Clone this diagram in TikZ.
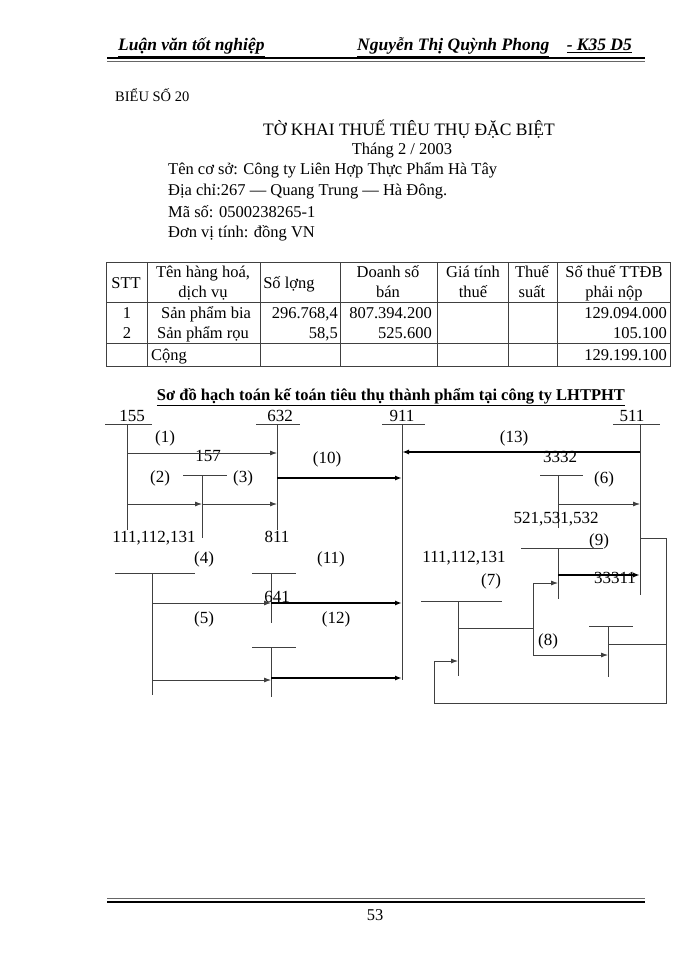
\documentclass[tikz,border=0pt]{standalone}
\usepackage{fontspec}
\setmainfont{Liberation Serif}
\usetikzlibrary{arrows.meta}
\begin{document}
\begin{tikzpicture}[x=1pt,y=-1pt,
  every node/.style={inner sep=0pt, text height=1.0em, text depth=0pt, font=\fontsize{16.5}{19}\selectfont},
  hdr/.style={font=\fontsize{17.5}{20}\selectfont\bfseries\itshape},
  dnum/.style={font=\fontsize{17}{20}\selectfont},
  tline/.style={line width=0.8pt, draw=black!75},
  acc/.style={line width=0.8pt, draw=black!75},
  arr/.style={line width=0.8pt, draw=black!75, -{Latex[length=7pt,width=5pt]}},
  tarr/.style={line width=1.6pt, -{Latex[length=7pt,width=5pt]}},
  lnk/.style={line width=0.8pt, draw=black!75}]
\useasboundingbox (0,0) rectangle (700,960);
\fill[white] (0,0) rectangle (700,960);

% header
\node[hdr, anchor=west] (h1) at (118,46) {\underline{Luận văn tốt nghiệp}};
\node[hdr, anchor=west] (h2) at (357,46) {\underline{Nguyễn Thị Quỳnh Phong}\quad\underline{- K35 D5}};
\coordinate (hl1) at (107,58); \coordinate (hr1) at (645,58);
\coordinate (hl2) at (107,61.5); \coordinate (hr2) at (645,61.5);
\draw[line width=2pt] (hl1) -- (hr1);
\draw[line width=0.8pt, black!60] (hl2) -- (hr2);

% footer
\coordinate (fl1) at (107,898); \coordinate (fr1) at (645,898);
\coordinate (fl2) at (107,901.5); \coordinate (fr2) at (645,901.5);
\draw[line width=0.8pt, black!60] (fl1) -- (fr1);
\draw[line width=2pt] (fl2) -- (fr2);
\node (pg) at (375,915) {53};

% titles
\node[anchor=west, font=\fontsize{14.5}{17}\selectfont] (bieu) at (115,97) {BIỂU SỐ 20};
\node[anchor=west, font=\fontsize{17.5}{20}\selectfont] (title) at (263,131) {TỜ KHAI THUẾ TIÊU THỤ ĐẶC BIỆT};
\node (thang) at (402,150) {Tháng 2 / 2003};
\node[anchor=west] (i1) at (168,170) {Tên cơ sở: Công ty Liên Hợp Thực Phẩm Hà Tây};
\node[anchor=west] (i2) at (168,191) {Địa chỉ:267 — Quang Trung — Hà Đông.};
\node[anchor=west] (i3) at (168,212) {Mã số: 0500238265-1};
\node[anchor=west] (i4) at (168,232) {Đơn vị tính: đồng VN};

% table
\coordinate (tTL) at (106,262); \coordinate (tBR) at (670,366);
\draw[tline] (tTL) rectangle (tBR);
\foreach \x in {147,260,340,437,508,557} \draw[tline] (\x,262) -- (\x,366);
\draw[tline] (106,302) -- (670,302);
\draw[tline] (106,343) -- (670,343);
\node (c1) at (126,283) {STT};
\node (c2a) at (203,272) {Tên hàng hoá,};
\node (c2b) at (203,292) {dịch vụ};
\node (c3) at (289,283) {Số lợng};
\node (c4a) at (388,272) {Doanh số};
\node (c4b) at (388,292) {bán};
\node (c5a) at (473,272) {Giá tính};
\node (c5b) at (473,292) {thuế};
\node (c6a) at (532,272) {Thuế};
\node (c6b) at (532,292) {suất};
\node (c7a) at (614,272) {Số thuế TTĐB};
\node (c7b) at (614,292) {phải nộp};
\node (r1a) at (127,313) {1};
\node (r1b) at (206,313) {Sản phẩm bia};
\node[anchor=east] (r1c) at (338,313) {296.768,4};
\node[anchor=east] (r1d) at (432,313) {807.394.200};
\node[anchor=east] (r1e) at (667,313) {129.094.000};
\node (r2a) at (127,333) {2};
\node (r2b) at (203,333) {Sản phẩm rọu};
\node[anchor=east] (r2c) at (338,333) {58,5};
\node[anchor=east] (r2d) at (432,333) {525.600};
\node[anchor=east] (r2e) at (667,333) {105.100};
\node[anchor=west] (r3b) at (151,355) {Cộng};
\node[anchor=east] (r3e) at (667,355) {129.199.100};

% diagram title
\node[font=\fontsize{16.5}{19}\selectfont\bfseries] (dtitle) at (391,395) {\underline{Sơ đồ hạch toán kế toán tiêu thụ thành phẩm tại công ty LHTPHT}};

\begin{scope}[every node/.append style={dnum}]
% T-accounts: top labels
\node (n155) at (132,416) {155};
\node (n632) at (280,416) {632};
\node (n911) at (402,416) {911};
\node (n511) at (632,416) {511};
\draw[acc] (105,424) -- (152,424);
\draw[acc] (256,424) -- (300,424);
\draw[acc] (382,424) -- (425,424);
\draw[acc] (613,424) -- (660,424);
\coordinate (v155t) at (127,424); \coordinate (v155b) at (127,530);
\coordinate (v632t) at (277,424); \coordinate (v632b) at (277,530);
\coordinate (v911t) at (402,424); \coordinate (v911b) at (402,680);
\coordinate (v511t) at (640,424); \coordinate (v511b) at (640,595);
\draw[acc] (v155t) -- (v155b);
\draw[acc] (v632t) -- (v632b);
\draw[acc] (v911t) -- (v911b);
\draw[acc] (v511t) -- (v511b);

% 157
\node (n157) at (208,456) {157};
\draw[acc] (183,475) -- (227,475);
\coordinate (v157t) at (202,475); \coordinate (v157b) at (202,538);
\draw[acc] (v157t) -- (v157b);

% arrows 1,2,3,10,13
\node (l1) at (165,437) {(1)};
\node (l2) at (160,477) {(2)};
\node (l3) at (243,477) {(3)};
\node (l10) at (327,458) {(10)};
\node (l13) at (514,437) {(13)};
\draw[arr] (127,453) -- (277,453);
\draw[arr] (127,504) -- (202,504);
\draw[arr] (202,504) -- (277,504);
\draw[tarr] (277,478) -- (402,478);
\draw[tarr] (640,452) -- (402,452);

% 3332
\node (n3332) at (560,457) {3332};
\draw[acc] (540,475) -- (583,475);
\coordinate (v3332t) at (558,475); \coordinate (v3332b) at (558,528);
\draw[acc] (v3332t) -- (v3332b);
\node (l6) at (604,478) {(6)};
\draw[arr] (558,504) -- (640,504);
\node (n521) at (556,518) {521,531,532};

% 9 / 33311
\node (l9) at (599,540) {(9)};
\draw[acc] (521,548) -- (603,548);
\coordinate (v521t) at (558,548); \coordinate (v521b) at (558,599);
\draw[acc] (v521t) -- (v521b);
\draw[tarr] (558,575) -- (640,575);
\node (n33311) at (615,578) {33311};

% left lower
\node (n111a) at (154,537) {111,112,131};
\node (n811) at (277,537) {811};
\node (l4) at (204,558) {(4)};
\node (l11) at (331,558) {(11)};
\draw[acc] (115,573) -- (195,573);
\coordinate (v111t) at (152,573); \coordinate (v111b) at (152,695);
\draw[acc] (v111t) -- (v111b);
\draw[acc] (252,573) -- (296,573);
\coordinate (v811t) at (271,573); \coordinate (v811b) at (271,623);
\draw[acc] (v811t) -- (v811b);
\draw[arr] (152,603) -- (271,603);
\draw[tarr] (271,603) -- (402,603);
\node (n641) at (277,597) {641};
\node (l5) at (204,618) {(5)};
\node (l12) at (336,618) {(12)};
\draw[acc] (252,647) -- (296,647);
\coordinate (v641t) at (271,647); \coordinate (v641b) at (271,697);
\draw[acc] (v641t) -- (v641b);
\draw[arr] (152,680) -- (271,680);
\draw[tarr] (271,678) -- (402,678);

% right lower
\node (n111b) at (464,557) {111,112,131};
\node (l7) at (491,580) {(7)};
\draw[acc] (421,601) -- (502,601);
\coordinate (v111rt) at (458,601); \coordinate (v111rb) at (458,676);
\draw[acc] (v111rt) -- (v111rb);
\coordinate (j1) at (533,628);
\draw[lnk] (458,628) -- (j1);
\draw[lnk] (533,583) -- (533,655);
\draw[arr] (533,583) -- (558,583);
\draw[arr] (533,655) -- (608,655);
\node (l8) at (548,640) {(8)};
\draw[acc] (589,626) -- (633,626);
\coordinate (v3rt) at (608,626); \coordinate (v3rb) at (608,677);
\draw[acc] (v3rt) -- (v3rb);
\coordinate (lpA) at (666,538); \coordinate (lpB) at (666,703);
\draw[lnk] (640,538) -- (lpA) -- (lpB) -- (434,703) -- (434,661);
\draw[arr] (434,661) -- (458,661);
\draw[lnk] (608,644) -- (666,644);
\end{scope}
\end{tikzpicture}
\end{document}
